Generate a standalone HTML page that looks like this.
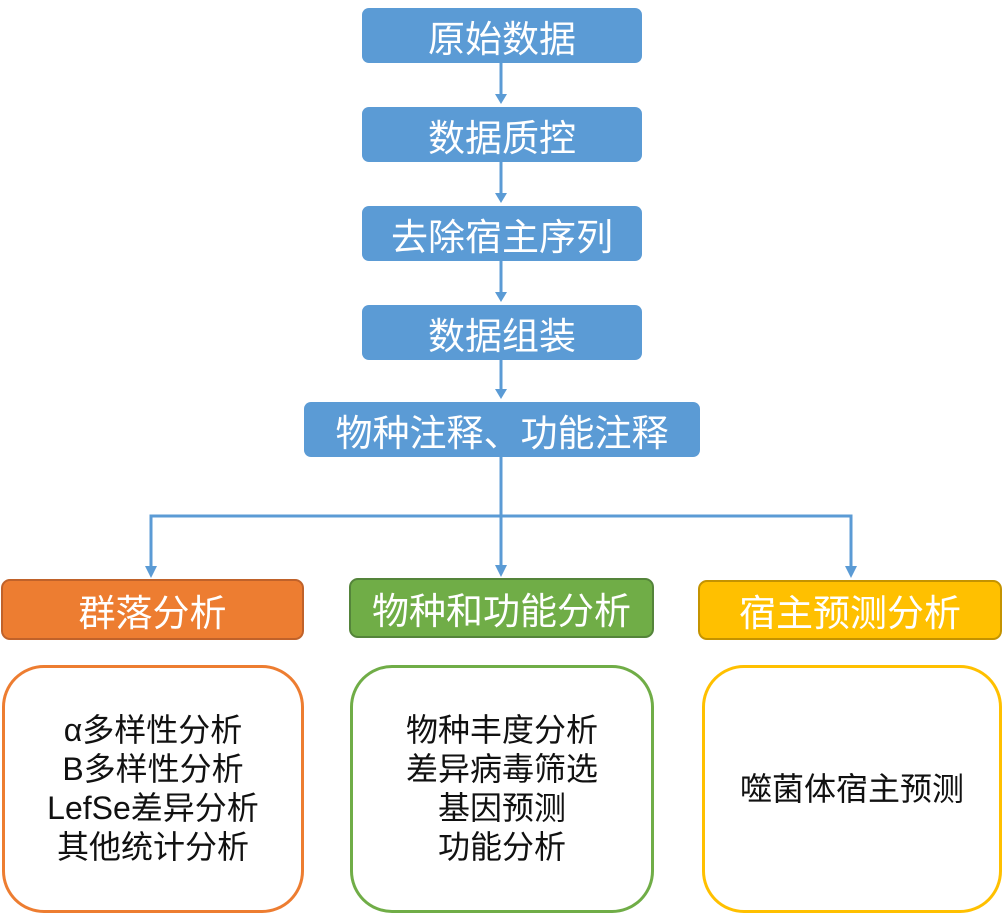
<!DOCTYPE html>
<html><head><meta charset="utf-8"><style>
body{margin:0;width:1004px;height:914px;background:#fff;position:relative;overflow:hidden;font-family:"Liberation Sans","Noto Sans CJK SC",sans-serif}
.b{position:absolute;background:#5b9bd5;color:#fff;border-radius:7px;display:flex;align-items:center;justify-content:center;font-size:37px}
.c{position:absolute;border-radius:9px;color:#fff;display:flex;align-items:center;justify-content:center;font-size:37px;box-sizing:border-box;border:2px solid}
.d{position:absolute;border-radius:42px;border:3px solid;box-sizing:border-box;display:flex;align-items:center;justify-content:center;text-align:center;font-size:32px;line-height:39px;color:#111}
</style></head><body>
<svg width="1004" height="914" style="position:absolute;left:0;top:0">
<g stroke="#5b9bd5" stroke-width="3" fill="none">
<line x1="501" y1="63" x2="501" y2="96"/><line x1="501" y1="162" x2="501" y2="195"/>
<line x1="501" y1="261" x2="501" y2="294"/><line x1="501" y1="360" x2="501" y2="391"/>
<line x1="501" y1="457" x2="501" y2="566"/>
<polyline points="151,568 151,516 851,516 851,568"/>
</g>
<g fill="#5b9bd5">
<polygon points="495,94 507,94 501,104"/><polygon points="495,193 507,193 501,203"/>
<polygon points="495,292 507,292 501,302"/><polygon points="495,389 507,389 501,399"/>
<polygon points="495,565 507,565 501,577"/><polygon points="145,566 157,566 151,578"/>
<polygon points="845,566 857,566 851,578"/>
</g></svg>
<div class="b" style="left:362px;top:8px;width:280px;height:55px">原始数据</div>
<div class="b" style="left:362px;top:107px;width:280px;height:55px">数据质控</div>
<div class="b" style="left:362px;top:206px;width:280px;height:55px">去除宿主序列</div>
<div class="b" style="left:362px;top:305px;width:280px;height:55px">数据组装</div>
<div class="b" style="left:304px;top:402px;width:396px;height:55px">物种注释、功能注释</div>
<div class="c" style="left:1px;top:579px;width:303px;height:61px;background:#ed7d31;border-color:#c0622a">群落分析</div>
<div class="c" style="left:349px;top:578px;width:305px;height:60px;background:#70ad47;border-color:#54843a">物种和功能分析</div>
<div class="c" style="left:698px;top:580px;width:304px;height:60px;background:#ffc000;border-color:#c49300">宿主预测分析</div>
<div class="d" style="left:2px;top:665px;width:302px;height:248px;border-color:#ed7d31">α多样性分析<br>B多样性分析<br>LefSe差异分析<br>其他统计分析</div>
<div class="d" style="left:350px;top:665px;width:304px;height:248px;border-color:#70ad47">物种丰度分析<br>差异病毒筛选<br>基因预测<br>功能分析</div>
<div class="d" style="left:702px;top:665px;width:300px;height:248px;border-color:#ffc000">噬菌体宿主预测</div>
</body></html>
